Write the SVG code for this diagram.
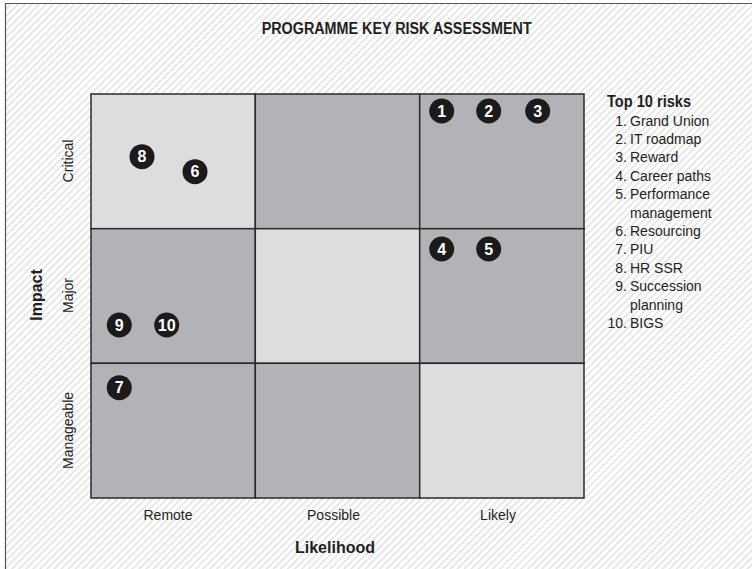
<svg xmlns="http://www.w3.org/2000/svg" width="752" height="569" viewBox="0 0 752 569">
<defs>
<pattern id="hatch" patternUnits="userSpaceOnUse" width="5" height="5" patternTransform="rotate(45)">
<rect x="0" y="0" width="1.4" height="5" fill="#dfdfdf"/>
</pattern>
<style>
.t{font-family:"Liberation Sans",Arial,sans-serif;fill:#231f20}
.lbl{font-size:14px}
.b{font-weight:bold}
.light{fill:#dcdddf}
.dark{fill:#b2b3b6}
.cell{stroke:#2a2a2a;stroke-width:1.5}
.dot circle{fill:#1c1a1b}
.dot text{font-family:"Liberation Sans",Arial,sans-serif;font-weight:bold;font-size:16px;fill:#ffffff;text-anchor:middle}
.num{text-anchor:end}
</style>
</defs>
<rect x="0" y="0" width="752" height="569" fill="#ffffff"/>
<rect x="5" y="3" width="747" height="566" fill="url(#hatch)"/>
<path d="M5.5 569 V3.5 H752" fill="none" stroke="#555555" stroke-width="1.2"/>

<text class="t b" x="396.7" y="34" font-size="16" text-anchor="middle" textLength="270" lengthAdjust="spacingAndGlyphs">PROGRAMME KEY RISK ASSESSMENT</text>

<g id="grid">
<rect class="cell light" x="91" y="94" width="164.3" height="134.7"/>
<rect class="cell dark" x="255.3" y="94" width="164.4" height="134.7"/>
<rect class="cell dark" x="419.7" y="94" width="164.3" height="134.7"/>
<rect class="cell dark" x="91" y="228.7" width="164.3" height="134.6"/>
<rect class="cell light" x="255.3" y="228.7" width="164.4" height="134.6"/>
<rect class="cell dark" x="419.7" y="228.7" width="164.3" height="134.6"/>
<rect class="cell dark" x="91" y="363.3" width="164.3" height="134.7"/>
<rect class="cell dark" x="255.3" y="363.3" width="164.4" height="134.7"/>
<rect class="cell light" x="419.7" y="363.3" width="164.3" height="134.7"/>
</g>

<g id="axis-labels">
<text class="t lbl" transform="translate(73,161) rotate(-90)" text-anchor="middle">Critical</text>
<text class="t lbl" transform="translate(73,295.5) rotate(-90)" text-anchor="middle">Major</text>
<text class="t lbl" transform="translate(73,430.5) rotate(-90)" text-anchor="middle">Manageable</text>
<text class="t b" font-size="16" transform="translate(42,295) rotate(-90)" text-anchor="middle">Impact</text>
<text class="t lbl" x="168" y="520" text-anchor="middle">Remote</text>
<text class="t lbl" x="333.5" y="520" text-anchor="middle">Possible</text>
<text class="t lbl" x="498" y="520" text-anchor="middle">Likely</text>
<text class="t b" font-size="16" x="335" y="553" text-anchor="middle">Likelihood</text>
</g>

<g id="risk-1" class="dot"><circle cx="441.7" cy="111" r="12.5"/><text x="441.7" y="116.7">1</text></g>
<g id="risk-2" class="dot"><circle cx="488.7" cy="111" r="12.5"/><text x="488.7" y="116.7">2</text></g>
<g id="risk-3" class="dot"><circle cx="537.7" cy="111" r="12.5"/><text x="537.7" y="116.7">3</text></g>
<g id="risk-4" class="dot"><circle cx="441.7" cy="249" r="12.5"/><text x="441.7" y="254.7">4</text></g>
<g id="risk-5" class="dot"><circle cx="488.7" cy="249" r="12.5"/><text x="488.7" y="254.7">5</text></g>
<g id="risk-6" class="dot"><circle cx="195" cy="171.7" r="12.5"/><text x="195" y="177.4">6</text></g>
<g id="risk-7" class="dot"><circle cx="119.3" cy="387.7" r="12.5"/><text x="119.3" y="393.4">7</text></g>
<g id="risk-8" class="dot"><circle cx="142" cy="156.7" r="12.5"/><text x="142" y="162.4">8</text></g>
<g id="risk-9" class="dot"><circle cx="119.3" cy="325" r="12.5"/><text x="119.3" y="330.7">9</text></g>
<g id="risk-10" class="dot"><circle cx="166.7" cy="325" r="12.5"/><text x="166.7" y="330.7" textLength="18" lengthAdjust="spacingAndGlyphs">10</text></g>

<g id="legend">
<text class="t b" font-size="16" x="607" y="106.7" textLength="84" lengthAdjust="spacingAndGlyphs">Top 10 risks</text>
<text class="t lbl num" x="627" y="125.5">1.</text><text class="t lbl" x="630" y="125.5">Grand Union</text>
<text class="t lbl num" x="627" y="143.9">2.</text><text class="t lbl" x="630" y="143.9">IT roadmap</text>
<text class="t lbl num" x="627" y="162.3">3.</text><text class="t lbl" x="630" y="162.3">Reward</text>
<text class="t lbl num" x="627" y="180.7">4.</text><text class="t lbl" x="630" y="180.7">Career paths</text>
<text class="t lbl num" x="627" y="199.1">5.</text><text class="t lbl" x="630" y="199.1">Performance</text>
<text class="t lbl" x="630" y="217.5">management</text>
<text class="t lbl num" x="627" y="235.9">6.</text><text class="t lbl" x="630" y="235.9">Resourcing</text>
<text class="t lbl num" x="627" y="254.3">7.</text><text class="t lbl" x="630" y="254.3">PIU</text>
<text class="t lbl num" x="627" y="272.7">8.</text><text class="t lbl" x="630" y="272.7">HR SSR</text>
<text class="t lbl num" x="627" y="291.1">9.</text><text class="t lbl" x="630" y="291.1">Succession</text>
<text class="t lbl" x="630" y="309.5">planning</text>
<text class="t lbl num" x="627" y="327.9">10.</text><text class="t lbl" x="630" y="327.9">BIGS</text>
</g>
</svg>
